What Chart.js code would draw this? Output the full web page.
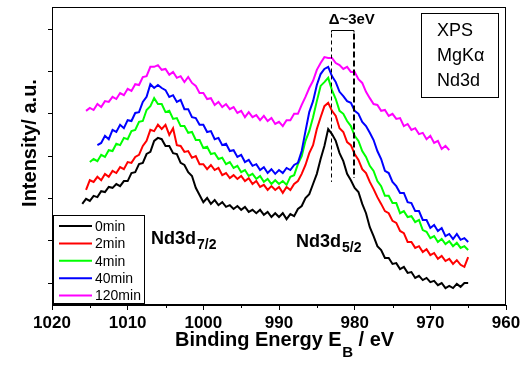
<!DOCTYPE html>
<html><head><meta charset="utf-8">
<script src="https://cdn.jsdelivr.net/npm/chart.js@4.4.1/dist/chart.umd.min.js"></script>
<style>html,body{margin:0;padding:0;background:#fff;}canvas{display:block;}</style>
</head><body>
<canvas id="c" width="531" height="369"></canvas>
<script>
// Binding energy grid (eV)
const energies = [
1016,1015.5,1015,1014.5,1014,1013.5,1013,1012.5,1012,1011.5,
1011,1010.5,1010,1009.5,1009,1008.5,1008,1007.5,1007,1006.5,
1006,1005.5,1005,1004.5,1004,1003.5,1003,1002.5,1002,1001.5,
1001,1000.5,1000,999.5,999,998.5,998,997.5,997,996.5,
996,995.5,995,994.5,994,993.5,993,992.5,992,991.5,
991,990.5,990,989.5,989,988.5,988,987.5,987,986.5,
986,985.5,985,984.5,984,983.5,983,982.5,982,981.5,
981,980.5,980,979.5,979,978.5,978,977.5,977,976.5,
976,975.5,975,974.5,974,973.5,973,972.5,972,971.5,
971,970.5,970,969.5,969,968.5,968,967.5,967,966.5,
966,965.5,965];

const seriesNames = ['0min','2min','4min','40min','120min'];
const seriesColors = ['#000000','#ff0000','#00ff00','#0000ff','#ff00ff'];

const int0min = [
18.7,19.9,19.4,20.6,20.3,21.7,21.5,22.7,22.5,23.4,
22.9,24.1,24.1,26.0,26.2,28.1,28.4,30.5,31.0,33.6,
34.3,34.0,32.4,32.4,30.7,30.5,28.4,27.9,26.2,25.3,
22.5,20.8,19.1,20.1,18.7,19.6,18.4,19.1,18.0,18.4,
17.5,18.2,17.3,18.0,16.8,17.3,16.5,17.3,16.1,16.8,
15.6,16.5,15.6,16.5,15.1,16.3,15.8,17.5,18.2,20.1,
21.0,23.4,25.8,29.3,32.4,36.4,35.2,33.6,30.7,28.8,
25.8,24.3,22.5,21.5,18.7,16.5,13.2,11.1,8.7,7.8,
5.9,5.9,4.5,4.7,3.3,3.8,2.4,2.6,1.2,1.7,
0.7,1.2,0.2,0.5,-0.5,0.0,-1.2,-0.7,-1.2,-0.2,
-0.9,0.0,0.0];

const int2min = [
null,22.0,24.3,23.9,25.1,24.3,25.8,25.1,26.5,26.0,
27.4,26.9,28.6,28.4,29.8,30.3,32.4,33.6,36.2,35.9,
37.4,36.4,37.4,35.0,36.6,32.6,32.4,31.0,31.2,29.6,
30.0,28.1,28.1,26.9,27.9,26.7,27.2,25.5,26.0,24.8,
25.5,24.6,25.3,24.1,24.8,23.4,24.1,22.7,23.2,22.0,
22.9,22.0,22.7,21.3,22.7,22.0,23.4,24.1,25.8,27.9,
30.7,32.6,36.4,39.2,41.8,42.6,40.7,39.5,36.6,35.7,
33.3,32.6,30.5,29.1,26.9,26.0,23.9,22.2,20.3,18.7,
17.0,16.5,14.7,14.2,12.3,11.8,9.7,9.7,8.3,8.7,
7.3,8.0,6.6,7.1,5.7,6.4,5.2,5.7,4.5,5.4,
4.3,3.8,6.1];

const int4min = [
null,null,28.6,29.3,28.8,30.3,29.8,31.4,31.2,32.9,
32.6,34.3,34.0,35.9,36.2,38.1,38.3,40.9,41.8,43.7,
42.3,42.3,40.4,40.7,38.8,39.0,37.1,37.1,35.5,35.7,
33.8,33.8,31.9,32.2,30.5,30.7,29.3,29.6,28.1,28.6,
27.2,27.7,26.2,26.7,25.3,25.8,24.6,25.3,23.9,24.6,
23.4,24.3,23.4,24.1,23.2,25.1,25.5,28.1,30.0,33.6,
35.9,39.2,43.0,46.6,47.5,48.5,45.6,43.5,40.7,40.0,
38.3,37.1,34.8,33.6,31.2,29.8,27.7,26.5,24.1,22.9,
20.6,20.6,18.9,18.9,16.5,17.0,15.6,15.8,14.4,14.9,
12.5,12.1,10.6,11.1,9.7,10.4,9.2,9.9,8.7,9.5,
8.3,8.7,7.8];

const int40min = [
null,null,null,null,32.6,33.1,34.8,34.0,36.2,35.7,
37.4,36.6,38.5,38.3,40.2,40.4,42.8,44.0,47.0,46.1,
46.8,46.1,45.6,44.0,44.4,42.8,43.3,41.1,41.1,39.2,
39.0,37.4,37.4,35.7,35.9,34.0,34.3,32.6,32.9,31.2,
31.4,29.8,30.3,28.6,29.1,27.7,28.1,26.7,27.4,26.0,
26.9,25.8,26.7,26.0,27.2,26.7,27.9,28.4,31.2,35.9,
40.4,43.0,46.8,49.4,50.6,51.1,48.9,47.5,45.2,44.2,
43.0,42.6,40.7,40.0,38.1,37.1,35.5,33.8,31.2,29.3,
26.5,26.0,23.9,22.9,21.3,21.3,19.1,18.9,17.0,17.0,
14.9,14.9,13.0,13.7,12.3,13.0,11.1,11.6,10.4,11.6,
10.2,10.6,9.7];

const int120min = [
null,40.7,41.4,40.9,42.3,41.6,43.0,42.8,44.0,43.5,
44.9,44.4,45.9,45.4,47.0,46.8,48.7,48.9,51.1,51.1,
51.5,50.4,50.6,49.2,49.9,48.5,48.9,47.5,48.7,47.3,
46.6,44.9,44.9,43.5,43.7,42.1,42.8,41.6,42.3,41.1,
41.6,40.2,40.7,39.2,40.4,39.2,39.7,38.5,39.5,38.3,
39.0,37.6,38.1,37.1,38.5,38.5,40.0,40.0,42.1,44.0,
46.1,47.8,50.4,52.0,53.4,53.2,53.2,52.0,51.5,50.6,
51.1,49.9,49.9,48.2,47.3,45.2,43.7,42.3,42.1,40.7,
40.9,39.5,40.0,38.8,39.0,37.1,37.6,36.2,36.6,35.2,
35.5,34.0,34.8,33.1,33.6,31.7,32.4,31.4,null,null,
null,null,null];

const seriesValues = [int0min, int2min, int4min, int40min, int120min];

// axis ticks
const xMajorTicks = [1020,1010,1000,990,980,970,960];
const xMinorTicks = [1015,1005,995,985,975,965];
const yTicks = [0,10,20,30,40,50,60];

// annotation values (eV, a.u.)
const peakShiftLeft = 983.17;
const peakShiftRight = 980.09;
const bracketLevel = 59.8;
const leftLineEnd = 23.9;
const rightLineEnd = 24.8;
const shiftLabel = 'Δ~3eV';
const infoLines = ['XPS','MgKα','Nd3d'];

const FONT = '"Liberation Sans", Arial, sans-serif';

const datasets = seriesValues.map((vals, k) => ({
  label: seriesNames[k],
  data: energies.map((e, i) => ({x: e, y: vals[i]})).filter(p => p.y !== null),
  borderColor: seriesColors[k],
  backgroundColor: seriesColors[k],
  borderWidth: 2,
  pointRadius: 0,
  tension: 0,
  fill: false,
  order: 4 - k
}));

const decor = {
  id: 'decor',
  afterDraw(chart) {
    const ctx = chart.ctx;
    const ca = chart.chartArea;
    const xs = chart.scales.x, ys = chart.scales.y;
    ctx.save();
    // frame
    ctx.strokeStyle = '#000';
    ctx.lineWidth = 1;
    ctx.strokeRect(Math.round(ca.left) + 0.5, Math.round(ca.top) + 0.5,
                   Math.round(ca.right - ca.left) - 1, Math.round(ca.bottom - ca.top) - 1);
    // minor x ticks
    ctx.beginPath();
    xMinorTicks.forEach(v => {
      const px = Math.round(xs.getPixelForValue(v)) + 0.5;
      ctx.moveTo(px, ca.bottom);
      ctx.lineTo(px, ca.bottom + 3);
    });
    ctx.stroke();

    // peak shift annotation
    const xl = Math.round(xs.getPixelForValue(peakShiftLeft)) + 0.5;
    const xr = Math.round(xs.getPixelForValue(peakShiftRight));
    const yb = Math.round(ys.getPixelForValue(bracketLevel)) + 0.5;
    ctx.beginPath();
    ctx.lineWidth = 1;
    ctx.moveTo(xl, yb + 2); ctx.lineTo(xl, yb); ctx.lineTo(xr, yb); ctx.lineTo(xr, yb + 2);
    ctx.stroke();
    ctx.setLineDash([4, 3]);
    ctx.beginPath();
    ctx.moveTo(xl, yb + 3);
    ctx.lineTo(xl, ys.getPixelForValue(leftLineEnd));
    ctx.stroke();
    ctx.lineWidth = 2;
    ctx.setLineDash([6, 3]);
    ctx.beginPath();
    ctx.moveTo(xr, yb + 3);
    ctx.lineTo(xr, ys.getPixelForValue(rightLineEnd));
    ctx.stroke();
    ctx.setLineDash([]);

    ctx.fillStyle = '#000';
    ctx.font = 'bold 15px ' + FONT;
    ctx.textAlign = 'center';
    ctx.textBaseline = 'alphabetic';
    ctx.fillText(shiftLabel, (xl + xr) / 2 + 9, 23.5);

    // info box
    ctx.lineWidth = 1;
    ctx.strokeRect(421.5, 13.5, 77, 84);
    ctx.font = '18px ' + FONT;
    ctx.textAlign = 'left';
    const infoBase = [36, 61, 86];
    infoLines.forEach((t, i) => ctx.fillText(t, 437, infoBase[i]));

    // legend
    ctx.fillStyle = '#fff';
    ctx.fillRect(53, 215, 91, 88);
    ctx.strokeStyle = '#000';
    ctx.strokeRect(53.5, 215.5, 91, 88);
    ctx.font = '14px ' + FONT;
    seriesNames.forEach((n, i) => {
      const yc = 226 + i * 17.4;
      ctx.strokeStyle = seriesColors[i];
      ctx.lineWidth = 2;
      ctx.beginPath(); ctx.moveTo(59, yc); ctx.lineTo(92, yc); ctx.stroke();
      ctx.fillStyle = '#000';
      ctx.fillText(n, 95, yc + 4.8);
    });

    // peak labels
    const subLabel = (x, y, main, sub) => {
      ctx.font = 'bold 18px ' + FONT;
      ctx.fillText(main, x, y);
      const w = ctx.measureText(main).width;
      ctx.font = 'bold 14px ' + FONT;
      ctx.fillText(sub, x + w + 1, y + 5);
    };
    ctx.fillStyle = '#000';
    subLabel(151, 243.5, 'Nd3d', '7/2');
    subLabel(296, 247, 'Nd3d', '5/2');

    // x axis title
    ctx.font = 'bold 20px ' + FONT;
    const t1 = 'Binding Energy E';
    let x0 = 175;
    ctx.fillText(t1, x0, 346);
    x0 += ctx.measureText(t1).width;
    ctx.font = 'bold 15px ' + FONT;
    ctx.fillText('B', x0 + 0.5, 357);
    x0 += ctx.measureText('B').width + 0.5;
    ctx.font = 'bold 20px ' + FONT;
    ctx.fillText(' / eV', x0, 346);

    // y axis title
    ctx.save();
    ctx.translate(36, 143);
    ctx.rotate(-Math.PI / 2);
    ctx.font = 'bold 20px ' + FONT;
    ctx.textAlign = 'center';
    ctx.fillText('Intensity/ a.u.', 0, 0);
    ctx.restore();

    ctx.restore();
  }
};

new Chart(document.getElementById('c'), {
  type: 'line',
  data: { datasets },
  options: {
    responsive: false,
    animation: false,
    devicePixelRatio: 1,
    layout: { padding: { left: 0, right: 25, top: 7, bottom: 0 } },
    plugins: { legend: { display: false }, tooltip: { enabled: false } },
    scales: {
      x: {
        type: 'linear',
        reverse: true,
        min: 960, max: 1020,
        afterBuildTicks: s => { s.ticks = xMajorTicks.map(v => ({value: v})); },
        afterFit: s => { s.height = 64; },
        ticks: { color: '#000', font: { family: FONT, size: 17, weight: 'bold' }, padding: 3, maxRotation: 0, autoSkip: false,
                 callback: v => String(v) },
        grid: { drawOnChartArea: false, drawTicks: true, tickLength: 5, color: '#000', tickColor: '#000' },
        border: { display: true, color: '#000', width: 1 }
      },
      y: {
        type: 'linear',
        min: -5.2, max: 65.25,
        afterBuildTicks: s => { s.ticks = yTicks.map(v => ({value: v})); },
        afterFit: s => { s.width = 52; },
        ticks: { display: false },
        grid: { drawOnChartArea: false, drawTicks: true, tickLength: 4, color: '#000', tickColor: '#000' },
        border: { display: true, color: '#000', width: 1 }
      }
    }
  },
  plugins: [decor]
});
</script>
</body></html>
